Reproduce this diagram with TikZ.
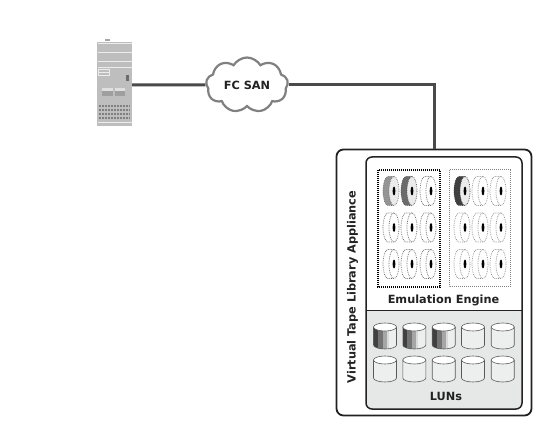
\documentclass[tikz,border=0pt]{standalone}
\usepackage{fontspec}
\setmainfont{DejaVu Sans}
\usetikzlibrary{shapes.symbols}
\definecolor{linkgray}{HTML}{4A4A4A}
\definecolor{boxdark}{HTML}{222222}
\definecolor{lungray}{HTML}{E6E7E7}
\definecolor{rackgray}{HTML}{BEBEBE}
\tikzset{
  label/.style={font=\bfseries\fontsize{11.3}{13}\selectfont,text=boxdark,inner sep=0pt},
  link/.style={draw=linkgray,line width=3pt},
  rackline/.style={draw=white!85!gray,line width=.9pt},
  pics/tapereel/.style n args={3}{code={
    \path[fill=#1] (3,-14.5) -- (-3,-14.5) arc[start angle=270,end angle=90,x radius=5,y radius=14.5] -- (3,14.5) -- cycle;
    \draw[#2,line width=.7pt,dash pattern=on .8pt off 1pt] (3,-14.5) -- (-3,-14.5) arc[start angle=270,end angle=90,x radius=5,y radius=14.5] -- (3,14.5);
    \draw[#2,line width=.7pt,dash pattern=on .8pt off 1pt,fill=#3] (3,0) ellipse[x radius=5,y radius=14.5];
    \fill[black] (3,0) ellipse[x radius=1.4,y radius=4.5];
  }},
  pics/lunbarrel/.style={code={
    \fill[lungray!70!white] (-11.5,-9) -- (-11.5,9) arc[start angle=180,end angle=0,x radius=11.5,y radius=4] -- (11.5,-9) -- cycle;
    \begin{scope}
      \clip (-11.5,-9) -- (-11.5,9) arc[start angle=180,end angle=0,x radius=11.5,y radius=4] -- (11.5,-9) -- cycle;
      #1
    \end{scope}
    \draw[draw=gray!70!black,line width=.6pt] (-11.5,-9) -- (-11.5,9) arc[start angle=180,end angle=0,x radius=11.5,y radius=4] -- (11.5,-9);
    \draw[draw=gray!70!black,line width=.6pt,fill=white] (0,-9) ellipse[x radius=11.5,y radius=4];
  }}
}
\newcommand{\lunstripes}{
  \fill[black!75] (-11.5,-14) rectangle (-7,14);
  \fill[black!55] (-7,-14) rectangle (-2,14);
  \fill[black!35] (-2,-14) rectangle (2,14);
  \fill[black!15] (2,-14) rectangle (4,14);
}
\begin{document}
\begin{tikzpicture}[x=1pt,y=-1pt]
  \useasboundingbox (0,0) rectangle (541,438);
  % Server
  \node[fill=rackgray,minimum width=35pt,minimum height=84pt,inner sep=0pt] (server) at (114.5,84) {};
  \fill[gray!70] (105,39.5) rectangle (110,41.5);
  \foreach \y in {43,52,61,67,122} {
    \draw[rackline] (97.5,\y) -- (131.5,\y);
  }
  \draw[rackline] (98,69) rectangle (109,72);
  \draw[rackline] (98,72) rectangle (109,75);
  \fill[gray!85!black] (126,75) rectangle (129,81);
  \fill[white!75!gray] (102,88) rectangle (113,96);
  \fill[white!75!gray] (115,88) rectangle (125,96);
  \fill[gray!75] (102,91) rectangle (113,96);
  \fill[gray!75] (115,91) rectangle (125,96);
  \foreach \y in {106,110,114,118} {
    \draw[draw=gray,line width=1.8pt,dash pattern=on 2pt off 1pt] (99,\y) -- (130,\y);
  }
  % Appliance frame
  \node[draw=boxdark,line width=1.8pt,rounded corners=7pt,minimum width=195pt,minimum height=266pt,inner sep=0pt] (appliance) at (434,282.5) {};
  \node[label,rotate=90] (appliancelabel) at (352.5,287) {Virtual Tape Library Appliance};
  % Inner boxes
  \fill[lungray,rounded corners=6pt] (366,290) rectangle (522,409);
  \fill[white] (366,285) rectangle (522,311);
  \draw[draw=boxdark,line width=1.5pt,rounded corners=6pt] (366,157) rectangle (522,409);
  \draw[draw=boxdark,line width=1pt] (366,311) -- (522,311);
  % Tape groups
  \draw[draw=black,line width=1.2pt,dash pattern=on 1pt off 1pt] (378,170) rectangle (440,287);
  \draw[draw=gray,line width=1pt,dash pattern=on 1pt off 1pt] (449,170) rectangle (510,287);
  \pic at (391,191) {tapereel={black!42}{black!55}{black!8}};
  \pic at (409,191) {tapereel={black!58}{black!65}{black!8}};
  \pic at (428,191) {tapereel={white}{black!60}{white}};
  \foreach \x in {391,409,428} {
    \foreach \y in {227.5,264} {
      \pic at (\x,\y) {tapereel={white}{black!60}{white}};
    }
  }
  \pic at (462,191) {tapereel={black!75}{black!75}{black!8}};
  \pic at (480,191) {tapereel={white}{black!45}{white}};
  \pic at (498,191) {tapereel={white}{black!45}{white}};
  \foreach \x in {462,480,498} {
    \foreach \y in {227.5,264} {
      \pic at (\x,\y) {tapereel={white}{black!45}{white}};
    }
  }
  \node[label] (enginelabel) at (443.5,300) {Emulation Engine};
  % LUNs
  \foreach \x in {385,414.3,443.7} {
    \pic at (\x,336) {lunbarrel={\lunstripes}};
  }
  \foreach \x in {473,502.7} {
    \pic at (\x,336) {lunbarrel={}};
  }
  \foreach \x in {385,414.3,443.7,473,502.7} {
    \pic at (\x,369) {lunbarrel={}};
  }
  \node[label] (lunlabel) at (446,396) {LUNs};
  % Cloud and links
  \node[cloud,cloud puffs=9,cloud puff arc=120,aspect=1.5,draw=black!50,line width=2.2pt,fill=white,minimum width=82pt,minimum height=55pt,inner sep=0pt] (fcsan) at (247,85) {};
  \node[label] (fcsanlabel) at (fcsan) {FC SAN};
  \draw[link] (server.east |- fcsan) -- (fcsan.west);
  \draw[link] (fcsan.east) -- (fcsan.east -| appliance.north) -- (appliance.north);
\end{tikzpicture}
\end{document}
